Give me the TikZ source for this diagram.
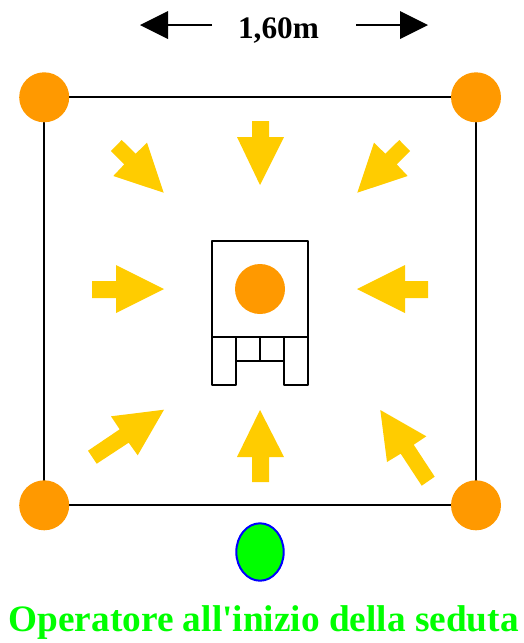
\documentclass[tikz,border=0pt]{standalone}
\usepackage{fontspec}
\usetikzlibrary{shapes.geometric}
\setmainfont{Liberation Serif}
\newfontfamily\plainserif{Liberation Serif}
\definecolor{dot}{RGB}{255,153,0}
\definecolor{arr}{RGB}{255,204,0}
\definecolor{opgreen}{RGB}{0,255,0}
\tikzset{
  dotnode/.style={circle,fill=dot,draw=none,minimum size=50pt,inner sep=0pt},
  yarrow/.style={fill=arr,draw=none},
  line/.style={draw=black,line width=2pt,line join=round},
  blackhead/.style={fill=black,draw=none}
}
\begin{document}
\begin{tikzpicture}[x=1pt,y=-1pt]
\useasboundingbox (0,0) rectangle (524,643);
% frame
\coordinate (tl) at (44.2,97.3); \coordinate (tr) at (476,97.3);
\coordinate (bl) at (44.2,505.3); \coordinate (br) at (476,505.3);
\draw[line] (tl) -- (tr) -- (br) -- (bl) -- cycle;
\node[dotnode] (ctl) at (tl) {};
\node[dotnode] (ctr) at (tr) {};
\node[dotnode] (cbl) at (bl) {};
\node[dotnode] (cbr) at (br) {};
% centre unit
\draw[line] (212,241) rectangle (308,337);
\draw[line] (212,337) -- (212,385) -- (236,385) -- (236,337);
\draw[line] (308,337) -- (308,385) -- (284,385) -- (284,337);
\draw[line] (236,361) -- (284,361);
\draw[line] (260,337) -- (260,361);
\node[dotnode] (centre) at (260,289) {};
% yellow arrows
\fill[yarrow] (260,185) -- (284,137) -- (269,137) -- (269,121) -- (252,121) -- (252,137) -- (237,137) -- cycle;
\fill[yarrow] (260,410) -- (284,457) -- (269,457) -- (269,482) -- (252,482) -- (252,457) -- (237,457) -- cycle;
\fill[yarrow] (164,289) -- (116,265) -- (116,281) -- (92,281) -- (92,298) -- (116,298) -- (116,313) -- cycle;
\fill[yarrow] (357,289) -- (405,265) -- (405,281) -- (428,281) -- (428,298) -- (405,298) -- (405,313) -- cycle;
\fill[yarrow] (163.7,192.7) -- (147,142.7) -- (135.7,153.7) -- (121.7,140) -- (111,151) -- (124.3,164.3) -- (113.3,176) -- cycle;
\fill[yarrow] (357.3,192.7) -- (374,142.7) -- (385.3,153.7) -- (399.3,140) -- (410,151) -- (396.7,164.3) -- (407.7,176) -- cycle;
\fill[yarrow] (164,409.7) -- (111,416.3) -- (119.7,429.3) -- (88,450.7) -- (96.7,463.7) -- (128.7,442.7) -- (137.7,455.3) -- cycle;
\fill[yarrow] (380.3,410) -- (426.3,436.3) -- (413.7,444.7) -- (434.7,476.7) -- (421.7,485.7) -- (400.7,453.7) -- (387,462) -- cycle;
% operator
\node[ellipse,draw=blue,fill=opgreen,line width=2pt,minimum width=47.4pt,minimum height=57.4pt,inner sep=0pt] (op) at (260,552) {};
\node[text=opgreen,font=\plainserif\bfseries\fontsize{37.3}{40}\selectfont,inner sep=0pt,anchor=base] (oplabel) at (263.7,631.7) {Operatore all'inizio della seduta};
% dimension
\node[font=\bfseries\fontsize{31.3}{34}\selectfont,inner sep=0pt,anchor=base] (dim) at (278.5,38) {1,60m};
\coordinate (la) at (212,25); \coordinate (lb) at (167,25);
\coordinate (ra) at (356,25); \coordinate (rb) at (402,25);
\draw[line width=2pt] (la) -- (lb);
\draw[line width=2pt] (ra) -- (rb);
\fill[blackhead] (140,25) -- (168,11) -- (168,39) -- cycle;
\fill[blackhead] (428,25) -- (400,11) -- (400,39) -- cycle;
\end{tikzpicture}
\end{document}
